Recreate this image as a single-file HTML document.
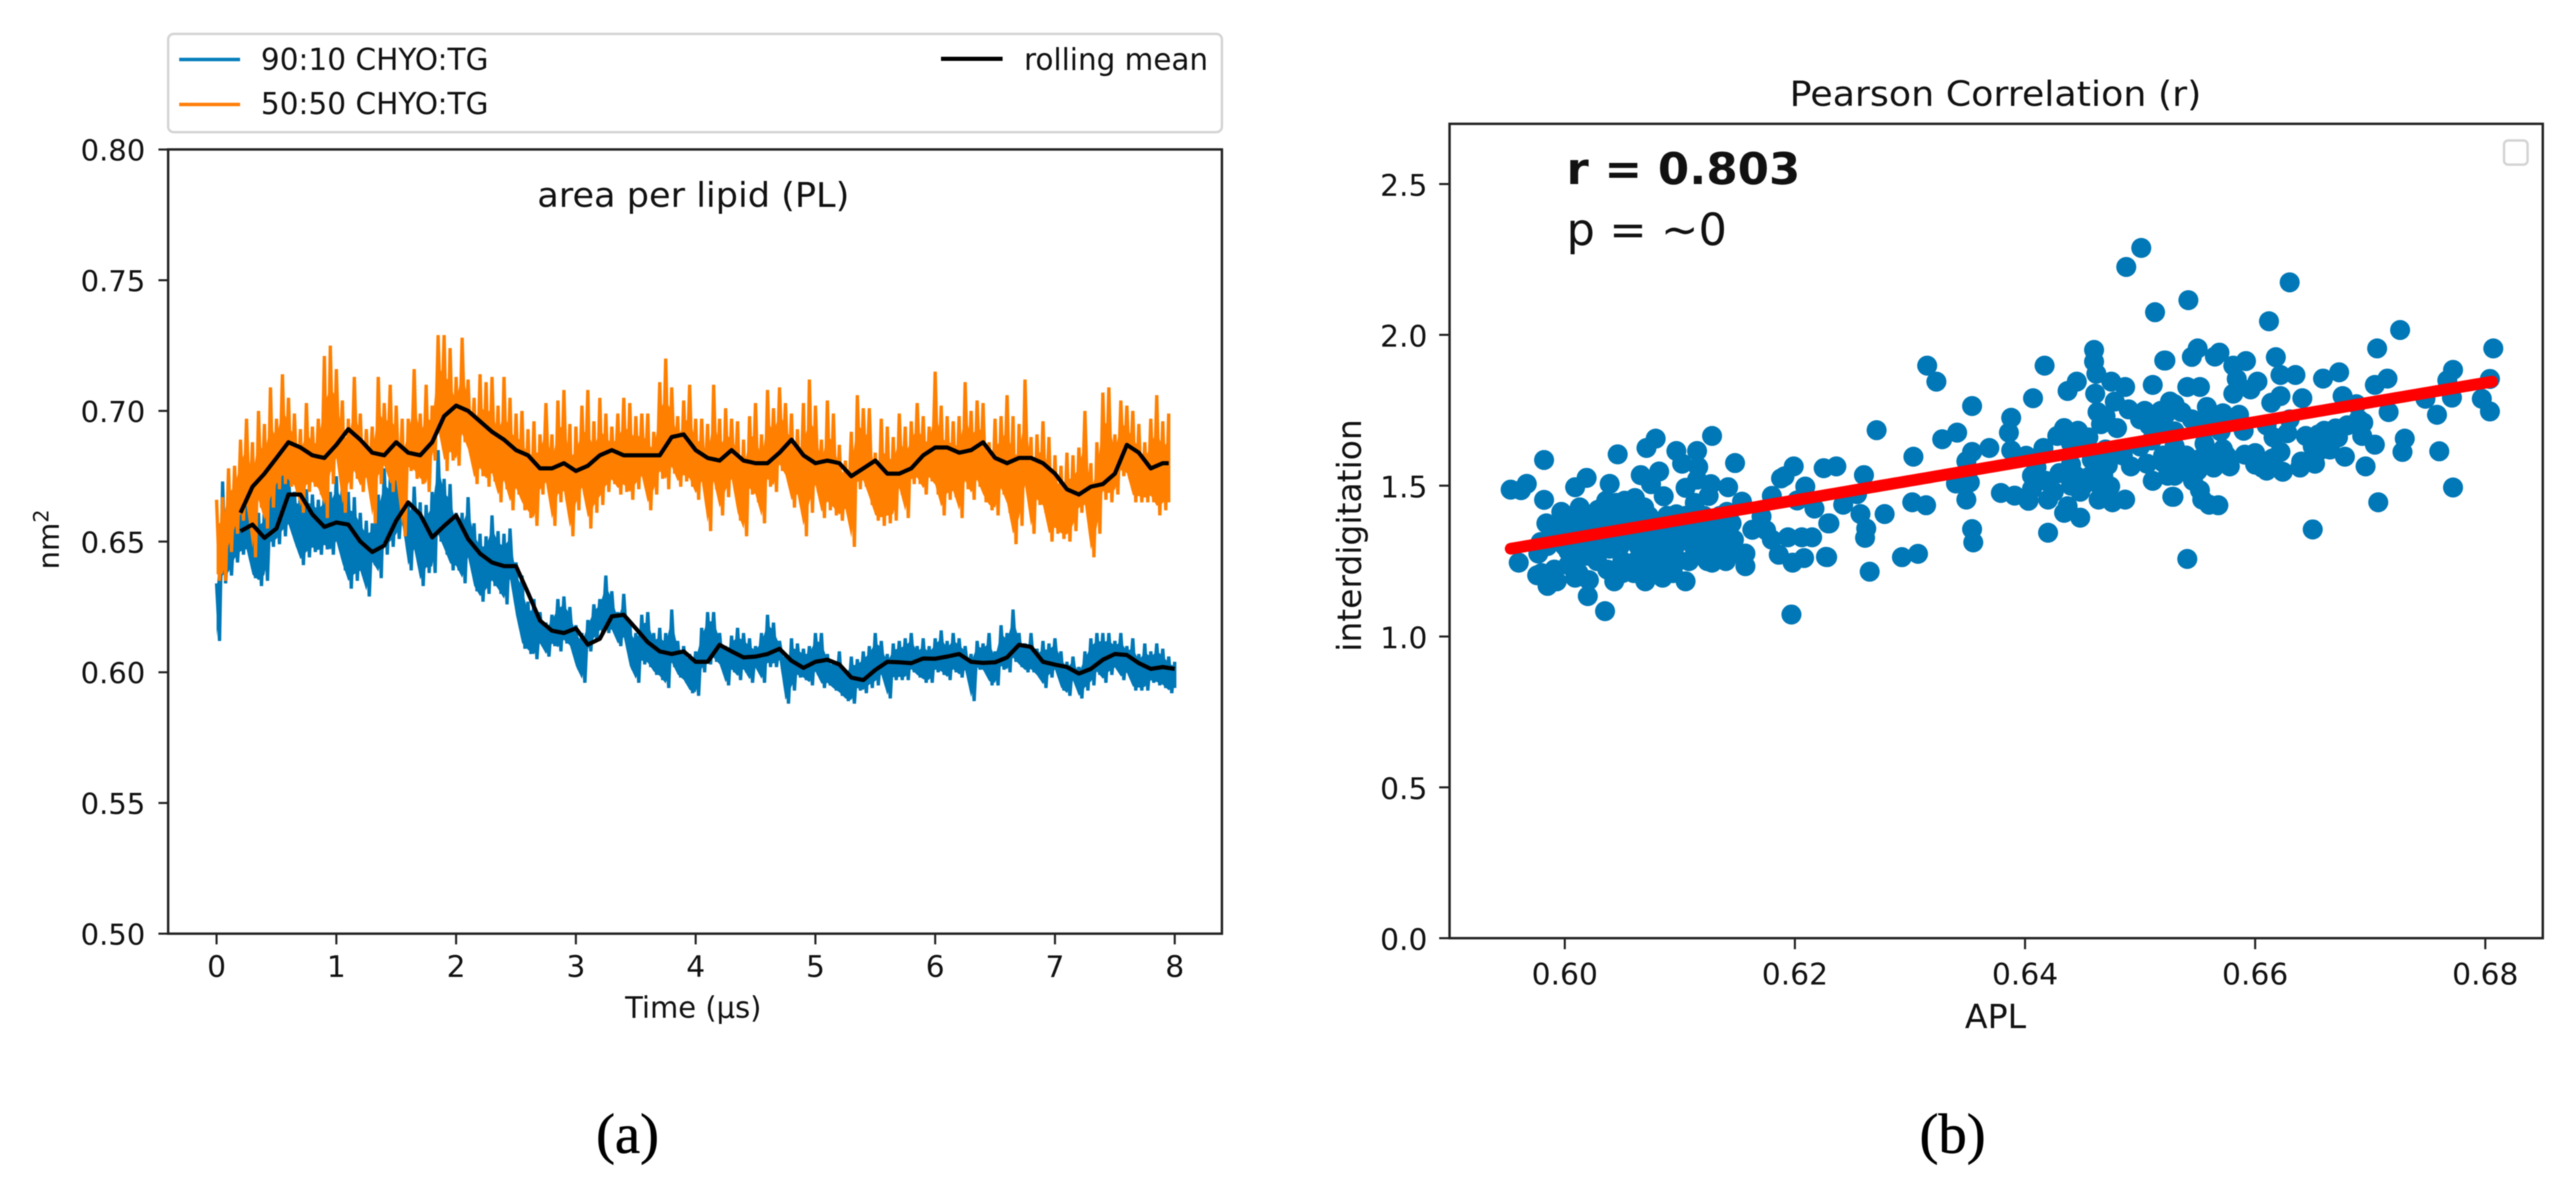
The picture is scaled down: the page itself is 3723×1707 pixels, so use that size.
<!DOCTYPE html>
<html lang="en">
<head>
<meta charset="utf-8">
<title>Area per lipid and Pearson correlation</title>
<style>
html,body{margin:0;padding:0;background:#fff;width:3723px;height:1707px;overflow:hidden}
svg{display:block;filter:blur(0.9px)}
text{font-family:"DejaVu Sans","Liberation Sans",sans-serif;fill:#111}
.cap{font-family:"Liberation Serif",serif;fill:#000;stroke:#000;stroke-width:0.8}
</style>
</head>
<body>
<svg id="figure" xmlns="http://www.w3.org/2000/svg" width="3723" height="1707" viewBox="0 0 3723 1707">
  <rect x="0" y="0" width="3723" height="1707" fill="#fff"/>

  <g id="panelA">
    <g id="seriesA"></g>
    <rect x="243" y="216" width="1523" height="1133.5" fill="none" stroke="#222" stroke-width="3.5"/>
    <g id="axesA"></g>
    <text x="1002" y="299" font-size="49" text-anchor="middle" textLength="451" lengthAdjust="spacingAndGlyphs">area per lipid (PL)</text>
    <text x="1002" y="1471" font-size="43" text-anchor="middle" textLength="197" lengthAdjust="spacingAndGlyphs">Time (µs)</text>
    <text transform="translate(85 823) rotate(-90)" font-size="42">nm<tspan font-size="30" dy="-15">2</tspan></text>
    <g>
      <rect x="243" y="49" width="1523" height="142" rx="8" fill="#fff" stroke="#d4d4d4" stroke-width="3.5"/>
      <line x1="259" y1="86" x2="347" y2="86" stroke="#0a7fbd" stroke-width="5"/>
      <text x="377" y="101" font-size="44" textLength="329" lengthAdjust="spacingAndGlyphs">90:10 CHYO:TG</text>
      <line x1="259" y1="151" x2="347" y2="151" stroke="#ff7f0e" stroke-width="5"/>
      <text x="377" y="165" font-size="44" textLength="329" lengthAdjust="spacingAndGlyphs">50:50 CHYO:TG</text>
      <line x1="1360" y1="85" x2="1449" y2="85" stroke="#000" stroke-width="6"/>
      <text x="1480" y="101" font-size="44" textLength="266" lengthAdjust="spacingAndGlyphs">rolling mean</text>
    </g>
  </g>

  <g id="panelB">
    <g id="seriesB"></g>
    <rect x="2095" y="179" width="1580" height="1177" fill="none" stroke="#222" stroke-width="3.5"/>
    <g id="axesB"></g>
    <text x="2884" y="153" font-size="50" text-anchor="middle" textLength="595" lengthAdjust="spacingAndGlyphs">Pearson Correlation (r)</text>
    <text x="2884" y="1486" font-size="48" text-anchor="middle">APL</text>
    <text transform="translate(1967 942) rotate(-90)" font-size="48" textLength="336" lengthAdjust="spacingAndGlyphs">interdigitation</text>
    <text x="2264" y="266" font-size="63" font-weight="700" textLength="338" lengthAdjust="spacingAndGlyphs">r = 0.803</text>
    <text x="2264" y="354" font-size="64" textLength="232" lengthAdjust="spacingAndGlyphs">p = ~0</text>
    <rect x="3619" y="203" width="34" height="35" rx="6" fill="#fff" stroke="#d4d4d4" stroke-width="3.5"/>
  </g>

  <text class="cap" x="907" y="1666" font-size="82" text-anchor="middle">(a)</text>
  <text class="cap" x="2822" y="1666" font-size="82" text-anchor="middle">(b)</text>
</svg>

<script>
// ---------- Panel (a) data: envelope of the noisy traces, sampled every 0.05 µs ----------
const timeStep = 0.05;
const meanStart = 0.2;
const meanStep = 0.1;
const orangeEnd = 7.95;

const orangeHigh = [
.666,.667,.678,.679,.689,.697,.688,.700,.695,.709,.697,.714,.705,.699,.693,.703,.694,.697,.721,.725,
.716,.704,.697,.713,.699,.693,.694,.713,.703,.710,.702,.697,.697,.716,.699,.710,.702,.729,.729,.724,
.713,.728,.712,.705,.714,.711,.713,.702,.713,.705,.699,.700,.693,.696,.691,.703,.691,
.704,.708,.695,.694,.702,.708,.696,.705,.699,.694,.699,.705,.703,.698,.699,.699,.692,.711,.720,.709,
.698,.704,.710,.697,.697,.695,.710,.697,.701,.697,.696,.689,.698,.703,.691,.708,.701,.709,.703,.699,
.693,.703,.712,.702,.689,.704,.699,.687,.681,.692,.706,.701,.701,.684,.697,.694,.690,
.699,.694,.696,.703,.698,.694,.715,.702,.698,.696,.698,.711,.700,.704,.703,.688,.697,.698,.706,.698,
.695,.712,.690,.691,.696,.690,.683,.679,.684,.683,.686,.700,.680,.688,.707,.709,.691,.704,.702,.700,
.695,.688,.697,.706,.696,.699];

const orangeLow = [
.635,.635,.646,.653,.658,.661,.644,.663,.655,.663,.670,.672,.671,.669,.661,.669,.671,.668,.659,.672,
.679,.661,.670,.674,.669,.673,.657,.672,.677,.669,.671,.652,.677,.674,.672,.669,.681,.690,.677,.681,
.679,.688,.683,.672,.675,.671,.673,.665,.670,.662,.668,.662,.659,.656,.668,.670,.656,
.665,.666,.652,.662,.668,.655,.661,.664,.669,.672,.668,.669,.666,.670,.673,.662,.668,.674,.670,.676,
.671,.673,.671,.666,.671,.654,.670,.660,.667,.672,.658,.652,.668,.665,.657,.671,.669,.677,.673,.663,
.666,.652,.661,.669,.659,.662,.660,.658,.661,.648,.670,.671,.664,.658,.656,.657,.658,
.668,.659,.672,.672,.668,.673,.668,.660,.666,.667,.659,.670,.666,.671,.665,.662,.660,.668,.661,.649,
.656,.668,.653,.664,.661,.650,.653,.651,.650,.654,.661,.661,.644,.653,.666,.665,.668,.675,.674,.665,
.665,.665,.665,.660,.662,.665];

const blueHigh = [
.634,.673,.654,.661,.661,.671,.653,.661,.663,.671,.674,.681,.676,.669,.669,.670,.668,.666,.669,.669,
.675,.672,.669,.667,.661,.658,.657,.668,.678,.674,.674,.668,.664,.671,.665,.664,.669,.685,.674,.672,
.661,.661,.667,.657,.653,.652,.660,.654,.653,.655,
.642,.637,.627,.628,.623,.619,.622,.628,.629,.625,.618,.615,.620,.626,.628,.637,.631,.623,.630,.619,
.615,.622,.623,.615,.617,.615,.624,.612,.610,.607,
.608,.617,.623,.623,.615,.610,.614,.617,.615,.613,.610,.615,.622,.619,.612,.606,.613,.611,.609,.610,
.615,.615,.607,.604,.608,.601,.606,.605,.608,.610,.615,.612,.607,.611,.612,.613,.615,.610,.613,.610,
.613,.616,.612,.615,.613,.610,.607,.612,.611,.615,.608,.618,.615,.624,.615,.611,.615,.609,.612,.611,
.613,.608,.604,.606,.602,.608,.613,.615,.615,.615,.612,.615,.610,.613,.607,.611,.608,.611,.609,.606,.604];

const blueLow = [
.612,.634,.637,.642,.645,.645,.636,.633,.635,.648,.649,.652,.655,.648,.641,.644,.646,.645,.647,.645,
.648,.639,.632,.635,.637,.629,.641,.636,.645,.648,.651,.656,.639,.645,.633,.638,.638,.650,.645,.639,
.639,.634,.642,.631,.627,.630,.633,.630,.626,.634,
.620,.609,.607,.605,.610,.606,.610,.608,.611,.609,.601,.596,.608,.612,.615,.615,.615,.610,.612,.601,
.596,.603,.602,.599,.597,.594,.602,.598,.596,.592,
.591,.600,.603,.604,.602,.595,.600,.597,.600,.596,.601,.596,.602,.602,.604,.588,.593,.598,.597,.595,
.599,.594,.595,.593,.591,.589,.588,.593,.592,.594,.595,.598,.590,.597,.597,.597,.600,.598,.596,.596,
.600,.599,.597,.600,.598,.600,.589,.601,.600,.595,.595,.601,.600,.604,.602,.600,.600,.598,.594,.598,
.600,.593,.591,.596,.590,.593,.595,.599,.596,.599,.601,.597,.599,.593,.593,.593,.596,.595,.594,.592,.594];

// rolling means, one value every 0.1 µs from 0.2 µs
const meanOrange = [
.661,.671,.676,.682,.688,.686,.683,.682,.687,.693,.689,.684,.683,.688,.684,.683,.688,.698,.702,.700,
.696,.692,.689,.685,.683,.678,.678,
.680,.677,.679,.683,.685,.683,.683,.683,.683,.690,.691,.685,.682,.681,.685,.681,.680,.680,.684,.689,
.683,.680,.681,.680,.675,.678,.681,.676,
.676,.678,.683,.686,.686,.684,.685,.688,.682,.680,.682,.682,.680,.676,.670,.668,.671,.672,.676,.687,
.684,.678,.680,.680];

const meanBlue = [
.654,.6565,.6514,.655,.668,.668,.6604,.6556,.6573,.6565,.650,.646,.6485,.658,.665,.6604,.6516,.656,.660,.651,
.6454,.642,.6406,.6406,.6304,.6198,.6159,.615,.6168,.6106,.6128,.6214,.622,.6168,.6115,.608,.607,.608,
.604,.604,.6105,.608,.6057,.606,.607,.609,.6044,.6017,.604,.6048,.603,.598,.597,.6009,.604,.6038,.6035,.6053,
.6052,.606,.607,.604,.6036,.6038,.6057,.6105,.6097,.604,.6029,.602,.5995,.6013,.6048,.607,.6066,.6035,.6013,.602,.6013];

const xTicksA = [0,1,2,3,4,5,6,7,8];
const xTickLabelsA = ["0","1","2","3","4","5","6","7","8"];
const yTicksA = [0.50,0.55,0.60,0.65,0.70,0.75,0.80];
const yTickLabelsA = ["0.50","0.55","0.60","0.65","0.70","0.75","0.80"];

// ---------- Panel (b) data ----------
const scatterApl = [
.5982,.5953,.5962,.5967,.5982,.6046,.6071,.6079,.6097,.6115,.6128,.6148,.6102,.6116,.6019,.6009,.6039,.6066,.6082,.6086,.6075,.6142,.6154,.6105,.6020,.6035,.6197,.6227,.6157,.6157,.6128,
.5997,.6013,.6029,.6045,.6061,.6069,.6097,.6113,.6125,.6105,.6115,.6127,
.5984,.6001,.6017,.6033,.6049,.6065,.6081,.6097,.6113,.6129,.6145,
.5979,.5995,.6011,.6027,.6043,.6059,.6075,.6091,.6107,.6123,.6139,.6147,
.5960,.5977,.6003,.6019,.6039,.6069,.6085,.6099,.6115,.6131,.6147,
.5976,.5991,.5985,.5993,.6009,.6021,.6043,.6037,.6057,.6070,.6085,.6073,.6087,.6003,
.6163,.6175,.6180,.6191,.6199,.6188,.6209,.6217,.6229,.6225,.6180,.6186,.6198,.6208,.6194,.6206,.6215,.6202,.6171,.6141,
.6236,.6260,.6271,.6303,.6315,.6323,.6328,.6341,.6354,.6354,.6369,.6349,.6340,.6352,.6349,.6254,.6242,.6257,.6230,.6262,.6261,.6278,.6302,.6314,.6228,.6265,.6293,.6307,.6354,.6355,
.6420,.6434,.6437,.6448,.6379,.6391,.6403,.6420,.6388,.6386,.6388,.6401,.6407,.6417,.6437,.6445,.6434,.6446,.6428,.6416,.6446,.6406,.6418,.6430,.6406,.6444,.6448,
.6458,.6472,.6464,.6476,.6487,.6474,.6450,.6468,.6460,.6460,.6462,.6475,.6487,.6461,.6463,.6466,.6480,.6478,.6490,.6504,.6518,.6508,
.6488,.6501,.6513,.6521,.6511,.6526,.6492,.6506,.6511,.6520,.6528,.6524,
.6542,.6630,.6612,.6726,.6706,.6807,.6804,.6772,.6767,.6715,.6704,.6673,.6659,.6635,.6622,.6618,.6641,.6622,.6614,.6602,.6596,.6581,.6584,.6592,.6581,.6569,.6565,.6550,.6545,.6522,
.6552,.6541,.6558,.6572,.6586,.6530,.6536,.6522,.6676,.6688,.6716,.6748,.6758,.6771,.6797,.6804,
.6590,.6616,.6628,.6644,.6660,.6672,.6680,.6694,.6693,.6704,.6730,.6728,.6760,.6678,.6696,.6656,.6652,.6639,.6624,.6622,.6606,.6591,.6600,.6578,.6564,.6550,.6572,.6556,
.6530,.6529,.6530,.6546,.6552,.6529,.6560,.6568,.6554,.6772,.6707,.6650,.6541,
.5990,.6006,.6022,.6038,.6054,.6070,.6086,.6102,.6118,.6134,
.5985,.6000,.6016,.6032,.6048,.6064,.6080,.6096,.6112,.6128,.6142,
.6010,.6028,.6050,.6062,.6078,.6092,.6108,.6124,.6140,
.6005,.6021,.6037,.6055,.6073,.6089,.6105,.6121,.6135,
.5980,.6012,.6050,.6060,.6078,.6094,
.6036,.6052,
.6410,.6425,.6440,.6456,.6465,.6440,.6465,.6485,.6500,.6470,.6440,.6455,
.6500,.6515,.6530,.6510,.6530,.6540,.6520,.6535,.6550,.6565,.6575,.6570,.6555,.6545,.6560,
.6600,.6610,.6615,.6640,.6650,.6665,.6670,.6655,.6690,.6630,.6610,.6470];

const scatterInterdigitation = [
1.585,1.487,1.485,1.506,1.453,1.604,1.625,1.656,1.615,1.615,1.665,1.575,1.573,1.562,1.526,1.495,1.506,1.535,1.547,1.465,1.505,1.495,1.447,1.183,1.134,1.084,1.073,1.264,1.233,1.275,1.245,
1.413,1.428,1.420,1.443,1.459,1.428,1.405,1.443,1.466,1.493,1.520,1.505,
1.375,1.375,1.375,1.375,1.398,1.382,1.375,1.375,1.382,1.367,1.375,
1.313,1.336,1.336,1.329,1.329,1.336,1.336,1.329,1.336,1.336,1.336,1.321,
1.245,1.275,1.283,1.268,1.291,1.283,1.275,1.252,1.291,1.283,1.275,
1.203,1.222,1.168,1.183,1.195,1.187,1.183,1.222,1.218,1.183,1.195,1.237,1.229,1.237,
1.354,1.352,1.466,1.531,1.564,1.524,1.497,1.424,1.375,1.558,1.321,1.271,1.245,1.260,1.329,1.329,1.329,1.451,1.398,1.413,
1.564,1.535,1.684,1.596,1.898,1.845,1.654,1.676,1.764,1.612,1.625,1.581,1.507,1.511,1.454,1.472,1.437,1.406,1.375,1.358,1.327,1.406,1.445,1.435,1.263,1.215,1.263,1.274,1.356,1.312,
1.344,1.410,1.432,1.394,1.476,1.467,1.450,1.454,1.725,1.676,1.617,1.599,1.790,1.898,1.814,1.845,1.691,1.682,1.665,1.625,1.639,1.533,1.516,1.542,1.489,1.533,1.480,
1.586,1.568,1.454,1.445,1.454,1.498,1.498,1.533,1.950,1.911,1.871,1.845,1.827,1.805,1.744,1.704,1.691,1.779,1.753,1.748,1.748,1.700,
2.225,2.288,2.075,1.915,1.834,1.779,1.564,1.573,1.516,1.577,1.463,1.533,
2.115,2.174,2.045,2.016,1.955,1.955,1.854,1.884,1.849,1.855,1.834,1.876,1.855,1.867,1.867,1.926,1.790,1.797,1.775,1.845,1.819,1.805,1.854,1.913,1.898,1.941,1.928,1.955,1.927,1.915,
1.827,1.827,1.761,1.740,1.735,1.770,1.744,1.735,1.797,1.770,1.744,1.788,1.735,1.792,1.788,1.746,
1.682,1.660,1.674,1.665,1.682,1.660,1.700,1.709,1.665,1.636,1.656,1.612,1.614,1.596,1.564,1.617,1.573,1.560,1.546,1.612,1.560,1.603,1.608,1.564,1.560,1.586,1.621,1.639,
1.630,1.595,1.533,1.516,1.485,1.463,1.437,1.435,1.454,1.494,1.445,1.355,1.257,
1.355,1.355,1.355,1.355,1.355,1.355,1.355,1.355,1.355,1.355,
1.300,1.300,1.300,1.300,1.300,1.300,1.300,1.300,1.300,1.300,1.300,
1.250,1.250,1.250,1.250,1.250,1.250,1.250,1.250,1.250,
1.400,1.400,1.400,1.400,1.400,1.400,1.400,1.400,1.400,
1.210,1.210,1.210,1.210,1.210,1.210,
1.450,1.450,
1.560,1.480,1.500,1.530,1.500,1.570,1.570,1.600,1.630,1.620,1.640,1.660,
1.720,1.700,1.680,1.650,1.630,1.600,1.600,1.560,1.550,1.600,1.600,1.680,1.680,1.720,1.720,
1.570,1.550,1.590,1.580,1.630,1.620,1.690,1.670,1.720,1.720,1.700,1.730];

const fitApl = [0.5953,0.6806];
const fitInterdigitation = [1.291,1.845];

const xTicksB = [0.60,0.62,0.64,0.66,0.68];
const xTickLabelsB = ["0.60","0.62","0.64","0.66","0.68"];
const yTicksB = [0,0.5,1,1.5,2,2.5];
const yTickLabelsB = ["0.0","0.5","1.0","1.5","2.0","2.5"];

// ---------- Axis functions ----------
function xA(t){return 313+t*173.1;}
function yA(v){return 1349.5-(v-0.5)*3778;}
function xB(a){return 2261.5+(a-0.6)*16630;}
function yB(v){return 1356-v*436;}

const NS = "http://www.w3.org/2000/svg";
function node(tag,parent){const el=document.createElementNS(NS,tag);parent.appendChild(el);return el;}

function zigzag(high,low,endT){
  const pts=[];
  const n=Math.min(high.length,low.length);
  for(let i=0;i<n;i++){
    const t=i*timeStep;
    pts.push(xA(t).toFixed(1)+","+yA(high[i]).toFixed(1));
    const t2=Math.min(t+timeStep/2,endT);
    pts.push(xA(t2).toFixed(1)+","+yA(low[i]).toFixed(1));
  }
  return pts.join(" ");
}
// dense middle of the noise: the part of each sample's range the trace fills solid
function coreBand(high,low,topShare,bottomShare){
  const upper=[];
  const lower=[];
  const n=Math.min(high.length,low.length);
  for(let i=0;i<n;i++){
    const range=high[i]-low[i];
    const x=xA(i*timeStep).toFixed(1);
    upper.push(x+","+yA(high[i]-range*topShare).toFixed(1));
    lower.unshift(x+","+yA(low[i]+range*bottomShare).toFixed(1));
  }
  return upper.concat(lower).join(" ");
}
function meanLine(values,endT){
  const pts=[];
  values.forEach(function(v,k){
    const t=Math.min(meanStart+k*meanStep,endT);
    pts.push(xA(t).toFixed(1)+","+yA(v).toFixed(1));
  });
  return pts.join(" ");
}

// ---------- Panel (a) marks ----------
const seriesA=document.getElementById("seriesA");

const blueTrace=node("polyline",seriesA);


blueTrace.setAttribute("points",zigzag(blueHigh,blueLow,8));
blueTrace.setAttribute("fill","none");
blueTrace.setAttribute("stroke","#0077b6");
blueTrace.setAttribute("stroke-width","4.8");
blueTrace.setAttribute("stroke-linejoin","bevel");

const blueCore=node("polygon",seriesA);


blueCore.setAttribute("points",coreBand(blueHigh,blueLow,0.18,0.08));
blueCore.setAttribute("fill","#0077b6");

const orangeTrace=node("polyline",seriesA);


orangeTrace.setAttribute("points",zigzag(orangeHigh,orangeLow,orangeEnd));
orangeTrace.setAttribute("fill","none");
orangeTrace.setAttribute("stroke","#ff7f00");
orangeTrace.setAttribute("stroke-width","4.8");
orangeTrace.setAttribute("stroke-linejoin","bevel");

const orangeCore=node("polygon",seriesA);


orangeCore.setAttribute("points",coreBand(orangeHigh,orangeLow,0.3,0.08));
orangeCore.setAttribute("fill","#ff7f00");

const orangeMean=node("polyline",seriesA);


orangeMean.setAttribute("points",meanLine(meanOrange,orangeEnd));
orangeMean.setAttribute("fill","none");
orangeMean.setAttribute("stroke","#000");
orangeMean.setAttribute("stroke-width","6");
orangeMean.setAttribute("stroke-linejoin","round");

const blueMean=node("polyline",seriesA);


blueMean.setAttribute("points",meanLine(meanBlue,8));
blueMean.setAttribute("fill","none");
blueMean.setAttribute("stroke","#000");
blueMean.setAttribute("stroke-width","6");
blueMean.setAttribute("stroke-linejoin","round");

// ---------- Panel (a) axes ----------
const axesA=document.getElementById("axesA");
xTicksA.forEach(function(t,i){
  const tick=node("line",axesA);
  
  
  tick.setAttribute("x1",xA(t));tick.setAttribute("x2",xA(t));
  tick.setAttribute("y1",1349.5);tick.setAttribute("y2",1365);
  tick.setAttribute("stroke","#222");tick.setAttribute("stroke-width","3");
  const label=node("text",axesA);
  
  
  label.setAttribute("x",xA(t));label.setAttribute("y",1412);
  label.setAttribute("font-size","43");label.setAttribute("text-anchor","middle");
  label.textContent=xTickLabelsA[i];
});
yTicksA.forEach(function(v,i){
  const tick=node("line",axesA);
  
  
  tick.setAttribute("x1",229);tick.setAttribute("x2",243);
  tick.setAttribute("y1",yA(v));tick.setAttribute("y2",yA(v));
  tick.setAttribute("stroke","#222");tick.setAttribute("stroke-width","3");
  const label=node("text",axesA);
  
  
  label.setAttribute("x",210);label.setAttribute("y",yA(v)+16);
  label.setAttribute("font-size","42");label.setAttribute("text-anchor","end");
  label.textContent=yTickLabelsA[i];
});

// ---------- Panel (b) marks ----------
const seriesB=document.getElementById("seriesB");
const pointCount=Math.min(scatterApl.length,scatterInterdigitation.length);
for(let i=0;i<pointCount;i++){
  const dot=node("circle",seriesB);
  
  
  dot.setAttribute("cx",xB(scatterApl[i]).toFixed(1));
  dot.setAttribute("cy",yB(scatterInterdigitation[i]).toFixed(1));
  dot.setAttribute("r","14.5");
  dot.setAttribute("fill","#0077b6");
}
const fit=node("line",seriesB);


fit.setAttribute("x1",xB(fitApl[0]));
fit.setAttribute("y1",yB(fitInterdigitation[0]));
fit.setAttribute("x2",xB(fitApl[1]));
fit.setAttribute("y2",yB(fitInterdigitation[1]));
fit.setAttribute("stroke","#ff0000");
fit.setAttribute("stroke-width","17");
fit.setAttribute("stroke-linecap","round");

// ---------- Panel (b) axes ----------
const axesB=document.getElementById("axesB");
xTicksB.forEach(function(a,i){
  const tick=node("line",axesB);
  
  
  tick.setAttribute("x1",xB(a));tick.setAttribute("x2",xB(a));
  tick.setAttribute("y1",1356);tick.setAttribute("y2",1372);
  tick.setAttribute("stroke","#222");tick.setAttribute("stroke-width","3");
  const label=node("text",axesB);
  
  
  label.setAttribute("x",xB(a));label.setAttribute("y",1423);
  label.setAttribute("font-size","43");label.setAttribute("text-anchor","middle");
  label.textContent=xTickLabelsB[i];
});
yTicksB.forEach(function(v,i){
  const tick=node("line",axesB);
  
  
  tick.setAttribute("x1",2080);tick.setAttribute("x2",2095);
  tick.setAttribute("y1",yB(v));tick.setAttribute("y2",yB(v));
  tick.setAttribute("stroke","#222");tick.setAttribute("stroke-width","3");
  const label=node("text",axesB);
  
  
  label.setAttribute("x",2063);label.setAttribute("y",yB(v)+17);
  label.setAttribute("font-size","43");label.setAttribute("text-anchor","end");
  label.textContent=yTickLabelsB[i];
});
</script>
</body>
</html>
